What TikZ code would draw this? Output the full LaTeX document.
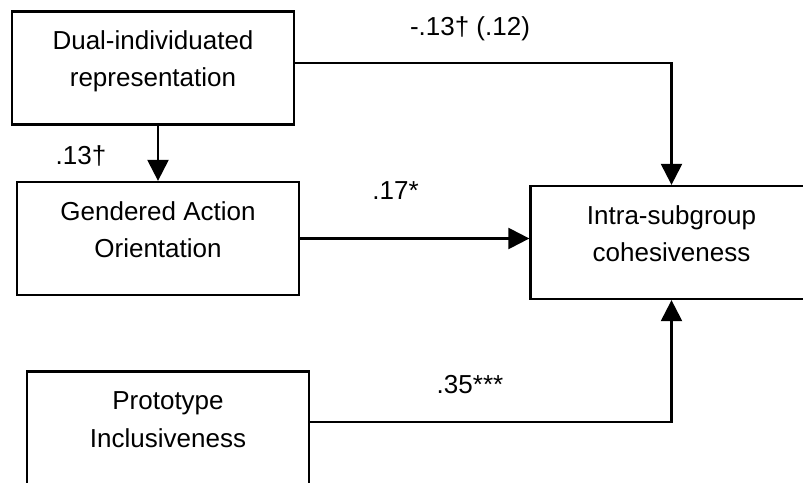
\documentclass[tikz,border=0pt]{standalone}
\usepackage{fontspec}
\setmainfont{Liberation Sans}
\usetikzlibrary{arrows.meta}

\begin{document}
\begin{tikzpicture}[
        font=\fontsize{14.8}{21.3}\selectfont,
        every node/.style={inner sep=0pt},
        box/.style={draw=black, line width=1.3pt, minimum width=5.64cm, minimum height=2.26cm,
                    align=center, text height=1.51cm, text depth=0.75cm},
        arr/.style={-{Triangle[length=0.42cm,width=0.42cm]}, line width=1.3pt},
        coef/.style={anchor=base}]
        \useasboundingbox (0,0) rectangle (16.06,9.64);

        % variables
        \node[box] (dual) at (3.06,8.28) {Dual-individuated\\representation};
        \node[box] (gao) at (3.16,4.87) {Gendered Action\\Orientation};
        \node[box] (proto) at (3.36,1.08) {Prototype\\Inclusiveness};
        \node[box] (intra) at (13.43,4.79) {Intra-subgroup\\cohesiveness};

        % paths
        \draw[arr] (gao.north |- dual.south) -- (gao.north);
        \draw[arr] ([yshift=0.1cm]dual.east) -| (intra.north);
        \draw[arr] (gao.east) -- (gao.east -| intra.west);
        \draw[arr] ([yshift=0.12cm]proto.east) -| (intra.south);

        % coefficients
        \node[coef] (b-dual-gao) at (1.62,6.34) {.13†};
        \node[coef] (b-dual-intra) at (9.4,8.92) {-.13† (.12)};
        \node[coef] (b-gao-intra) at (7.91,5.64) {.17*};
        \node[coef] (b-proto-intra) at (9.4,1.78) {.35***};
\end{tikzpicture}
\end{document}
